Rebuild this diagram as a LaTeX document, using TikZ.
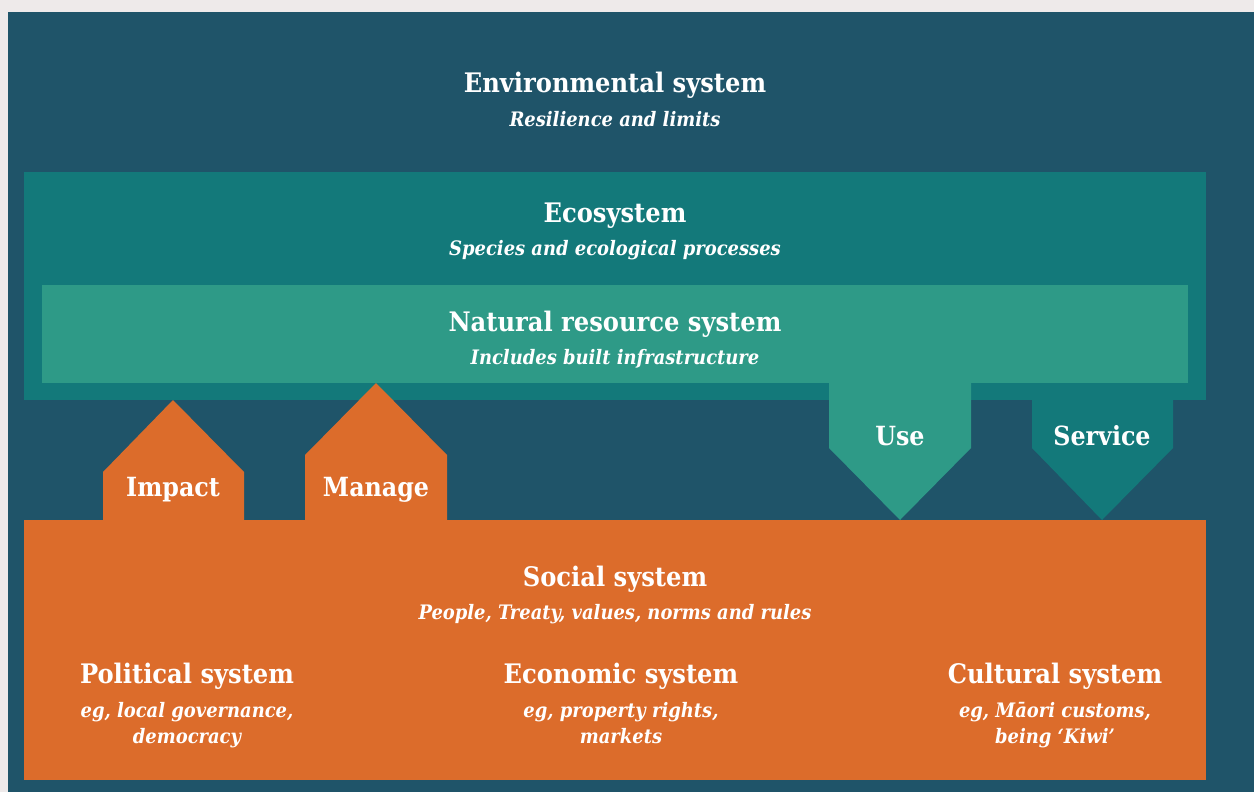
\documentclass[tikz,border=0pt]{standalone}
\usepackage{fontspec}
\setmainfont{DejaVu Serif Condensed}
\definecolor{bggrey}{HTML}{EEEAEA}
\definecolor{envblue}{HTML}{1F5469}
\definecolor{ecoteal}{HTML}{13797A}
\definecolor{natgreen}{HTML}{2E9A87}
\definecolor{socorange}{HTML}{DC6C2B}
\tikzset{
  ttl/.style={text=white, font=\bfseries\fontsize{27}{30}\selectfont, anchor=base, inner sep=0pt},
  sub/.style={text=white, font=\bfseries\itshape\fontsize{20}{26}\selectfont, anchor=base, inner sep=0pt, align=center},
  lbl/.style={text=white, font=\bfseries\fontsize{26.5}{30}\selectfont, anchor=base, inner sep=0pt},
}
\begin{document}
\begin{tikzpicture}[x=1bp,y=-1bp]
\useasboundingbox (0,0) rectangle (1254,792);
\fill[bggrey] (0,0) rectangle (1254,792);
\fill[envblue] (8,12) rectangle (1254,792);
% boxes
\fill[ecoteal] (24,172) rectangle (1206,400);
\fill[natgreen] (42,285) rectangle (1188,383);
\fill[socorange] (24,520) rectangle (1206,780);
% arrows
\fill[socorange] (103,521) -- (103,472) -- (173,400) -- (244,472) -- (244,521) -- cycle;
\fill[socorange] (305,521) -- (305,455) -- (376,383) -- (447,455) -- (447,521) -- cycle;
\fill[natgreen] (829,382) -- (829,448) -- (900,520) -- (971,448) -- (971,382) -- cycle;
\fill[ecoteal] (1032,399) -- (1032,448) -- (1102,520) -- (1173,448) -- (1173,399) -- cycle;
% texts
\node[ttl] (envT) at (615,93) {Environmental system};
\node[sub] (envS) at (615,126) {Resilience and limits};
\node[ttl] (ecoT) at (615,222) {Ecosystem};
\node[sub] (ecoS) at (615,255) {Species and ecological processes};
\node[ttl] (natT) at (615,331) {Natural resource system};
\node[sub] (natS) at (615,364) {Includes built infrastructure};
\node[lbl] (impact) at (173,496) {Impact};
\node[lbl] (manage) at (376,496) {Manage};
\node[lbl] (use) at (900,445) {Use};
\node[lbl] (service) at (1102,445) {Service};
\node[ttl] (socT) at (615,586) {Social system};
\node[sub] (socS) at (615,619) {People, Treaty, values, norms and rules};
\node[ttl] (polT) at (187,683) {Political system};
\node[sub] (polS1) at (187,717) {eg, local governance,};
\node[sub] (polS2) at (187,743) {democracy};
\node[ttl] (ecnT) at (621,683) {Economic system};
\node[sub] (ecnS1) at (621,717) {eg, property rights,};
\node[sub] (ecnS2) at (621,743) {markets};
\node[ttl] (culT) at (1055,683) {Cultural system};
\node[sub] (culS1) at (1055,717) {eg, Māori customs,};
\node[sub] (culS2) at (1055,743) {being ‘Kiwi’};
\end{tikzpicture}
\end{document}
